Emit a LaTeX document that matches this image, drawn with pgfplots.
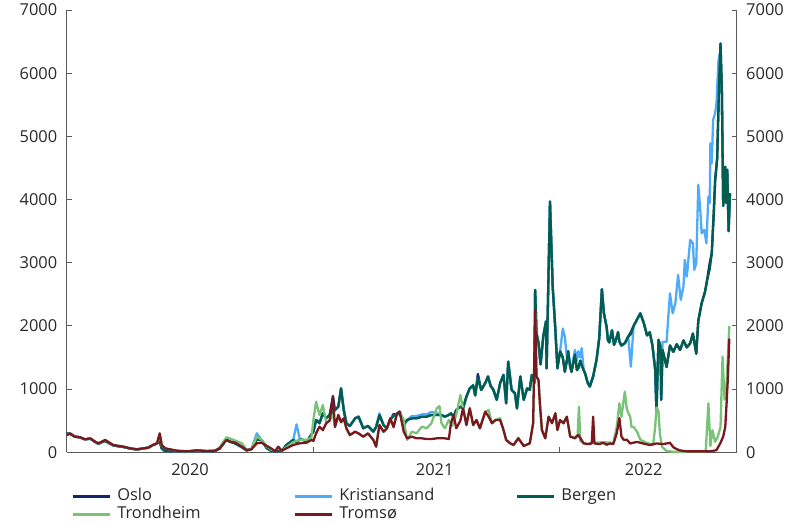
\documentclass[border=0pt]{standalone}
\usepackage{fontspec}
\setmainfont{Open Sans}
\usepackage{pgfplots}
\pgfplotsset{compat=1.18}
\usepackage{pgfplotstable}

\definecolor{oslo}{RGB}{16,38,110}
\definecolor{krs}{RGB}{80,170,250}
\definecolor{bergen}{RGB}{0,94,78}
\definecolor{trondheim}{RGB}{120,195,120}
\definecolor{tromso}{RGB}{122,24,32}
\definecolor{axisgray}{RGB}{90,90,90}
\definecolor{textgray}{RGB}{40,40,40}

% days counted from 1 January 2020, price per MWh
\pgfplotstableread{
d v
0 300
5 290
12 250
20 235
27 205
35 215
42 165
47 135
52 160
57 180
62 150
69 110
77 95
84 85
94 60
104 45
114 60
121 75
128 115
134 140
138 170
141 60
146 20
153 15
163 20
178 10
193 25
208 15
220 20
227 60
237 205
242 170
250 140
260 80
267 30
274 50
282 205
289 195
297 63
304 20
309 15
314 20
319 20
326 116
336 195
341 160
346 205
351 195
356 168
361 248
366 330
370 512
375 460
380 617
385 538
390 591
395 640
398 670
403 722
407 1013
411 670
415 459
420 417
428 538
433 564
440 380
447 417
455 327
459 400
464 590
470 432
475 380
480 512
485 580
490 591
494 643
500 432
505 512
512 538
519 538
527 564
534 564
541 591
549 591
556 591
561 564
567 591
570 617
574 564
578 670
584 722
588 696
593 881
598 1013
603 1060
606 900
610 1170
615 986
618 1040
622 1120
625 1200
629 1050
633 990
638 830
643 1095
648 1225
652 775
655 1435
660 990
665 935
668 695
673 1200
678 830
683 1010
687 990
690 1225
694 1100
695 2570
697 1885
700 1730
703 1390
707 1830
711 2070
712 1330
717 3970
721 2620
725 1935
728 1330
732 1600
736 1500
739 1275
742 1450
744 1600
747 1350
749 1275
752 1450
754 1550
757 1300
759 1330
762 1450
764 1380
767 1300
769 1250
773 1100
776 1040
781 1200
786 1460
790 1800
794 2580
797 2200
801 1985
803 1770
805 1740
809 1930
812 1700
814 1750
818 1900
820 1750
823 1690
828 1725
833 1830
837 1870
841 2000
846 2100
851 2200
856 2050
861 1850
865 1900
869 1690
873 1315
875 640
877 1400
878 1780
881 1670
882 830
884 1620
890 1350
895 1690
900 1590
905 1710
910 1620
915 1770
920 1660
925 1725
929 1880
934 1560
937 2080
942 2360
947 2540
950 2720
954 2900
957 3150
960 3800
962 4300
965 4650
968 5900
970 6470
972 5700
974 3900
977 4520
978 3950
980 4470
982 3500
984 4100
}\bergen

\pgfplotstableread{
d v
0 300
5 290
12 250
20 235
27 205
35 215
42 165
47 135
52 160
57 180
62 150
69 110
77 95
84 85
94 60
104 45
114 60
121 75
128 115
134 140
138 170
141 60
146 20
153 15
163 20
178 10
193 25
208 15
220 20
227 60
237 205
242 170
250 140
260 80
267 30
274 50
282 205
289 195
297 63
304 20
309 15
314 20
319 20
326 116
336 195
341 160
346 205
351 195
356 168
361 248
366 330
370 512
375 460
380 617
385 538
390 591
395 890
398 670
403 722
407 1013
411 670
415 459
420 417
428 538
433 564
440 380
447 417
455 327
459 400
464 590
470 432
475 380
480 512
485 607
490 591
494 643
500 432
505 512
512 538
519 538
527 564
534 564
541 591
549 591
556 591
561 564
567 591
570 617
574 564
578 670
584 722
588 696
593 881
598 1013
603 1060
606 900
610 1240
615 986
618 1040
622 1120
625 1200
629 1050
633 990
638 830
643 1095
648 1225
652 775
655 1435
660 990
665 935
668 695
673 1200
678 830
683 1010
687 990
690 1225
694 1100
695 2570
697 1885
700 1730
703 1390
707 1830
711 2070
712 1330
717 3970
721 2620
725 1935
728 1330
732 1600
736 1500
739 1275
742 1450
744 1600
747 1350
749 1275
752 1450
754 1550
757 1300
759 1330
762 1450
764 1380
767 1300
769 1250
773 1100
776 1040
781 1200
786 1460
790 1800
794 2580
797 2200
801 1985
803 1770
805 1740
809 1930
812 1700
814 1750
818 1900
820 1750
823 1690
828 1725
833 1830
837 1900
841 2000
846 2100
851 2200
856 2050
861 1850
865 1900
869 1690
873 1315
875 640
877 1400
878 1780
881 1670
882 830
884 1620
890 1350
895 1690
900 1590
905 1710
910 1620
915 1770
920 1660
925 1725
929 1880
934 1560
937 2080
942 2360
947 2540
950 2720
954 3000
957 3150
960 3800
962 4300
965 4650
968 5900
970 6470
972 5700
974 3900
977 4520
978 3950
980 4470
982 3500
984 4100
}\oslo

\pgfplotstableread{
d v
0 300
5 290
12 250
20 235
27 205
35 215
42 165
47 135
52 160
57 180
62 150
69 110
77 95
84 85
94 60
104 45
114 60
121 75
128 115
134 140
138 170
141 60
146 20
153 15
163 20
178 10
193 25
208 15
220 20
227 60
237 205
242 170
250 140
260 80
267 30
274 50
282 300
289 195
297 63
304 20
309 15
314 20
319 20
326 116
336 195
341 442
346 205
351 195
356 168
361 248
366 330
370 512
375 460
380 617
385 538
390 591
395 640
398 670
403 722
407 1013
411 670
415 459
420 417
428 538
433 564
440 380
447 417
455 327
459 400
464 617
470 432
475 380
480 512
485 580
490 591
494 643
500 432
505 512
512 575
519 575
527 600
534 600
541 640
549 620
556 591
561 564
567 591
570 617
574 564
578 670
584 722
588 696
593 881
598 1013
603 1060
606 900
610 1170
615 986
618 1040
622 1120
625 1200
629 1050
633 990
638 830
643 1095
648 1225
652 775
655 1435
660 990
665 935
668 695
673 1200
678 830
683 1010
687 990
690 1225
694 1100
695 2570
697 1885
700 1730
703 1390
707 1830
711 2070
712 1330
717 3970
721 2620
725 1935
728 1330
732 1600
736 1960
739 1831
742 1500
744 1600
747 1350
749 1300
752 1500
754 1620
757 1450
759 1600
762 1500
764 1650
767 1300
769 1250
773 1100
776 1040
781 1200
786 1460
790 1800
794 2580
797 2200
801 1985
803 1770
805 1740
809 1930
812 1700
814 1750
818 1900
820 1750
823 1690
828 1725
833 1830
837 1355
841 2000
846 2100
851 2200
856 2050
861 1850
865 1900
869 1690
873 1315
875 640
877 1400
878 1780
881 1670
882 830
884 1750
890 1750
895 2517
899 2200
903 2360
907 2806
911 2411
915 2622
917 3045
920 2780
925 3360
929 3308
931 2886
934 2992
937 4232
940 3836
942 3467
946 3520
949 3308
952 4047
954 3942
955 4892
957 4575
959 5261
962 5366
964 5524
967 6210
969 6316
971 5900
972 5700
974 3900
977 4520
978 3950
980 4470
982 3500
984 4100
}\kristiansand

\pgfplotstableread{
d v
0 270
5 300
12 247
20 237
27 205
35 221
42 168
47 142
52 168
57 195
62 160
69 116
77 100
84 89
94 63
104 47
114 63
121 73
128 116
134 142
138 290
141 116
146 63
153 47
163 26
178 15
193 31
208 21
220 26
227 80
237 237
242 220
250 185
260 142
267 36
274 47
282 247
289 200
297 90
304 40
309 20
314 80
319 25
326 80
336 160
346 200
356 200
363 230
366 512
370 800
375 590
380 750
385 470
390 500
395 600
398 400
403 580
407 470
411 530
415 375
420 270
428 320
433 295
440 245
447 295
455 190
459 90
464 430
470 320
475 375
480 530
485 395
490 610
494 640
500 512
505 195
512 327
519 300
527 406
534 380
541 459
549 696
553 733
556 459
561 380
567 512
572 420
578 591
584 907
588 700
593 450
598 700
603 430
608 510
613 380
621 643
626 670
631 459
636 511
643 540
648 353
652 195
658 142
663 116
670 230
678 100
687 142
692 459
695 2200
697 1190
700 1140
702 770
705 350
710 221
715 564
720 470
725 617
728 353
732 511
737 459
742 564
747 248
754 240
758 274
760 722
762 180
767 142
773 130
779 150
781 200
783 150
796 160
811 150
816 400
820 775
823 560
828 960
831 680
836 560
838 400
841 400
846 330
851 200
860 150
870 120
873 400
875 710
878 650
880 300
883 90
890 20
900 10
948 10
952 775
955 100
958 350
962 165
966 250
970 400
973 1515
976 830
979 1100
983 2000
}\trondheim

\pgfplotstableread{
d v
0 270
5 300
12 247
20 237
27 205
35 221
42 168
47 142
52 168
57 195
62 160
69 116
77 100
84 89
94 63
104 47
114 63
121 73
128 116
134 142
138 300
141 116
146 63
153 47
163 26
178 15
193 31
208 21
220 26
227 63
237 195
242 168
250 153
260 89
267 36
274 47
282 142
289 153
297 100
304 58
309 15
314 89
319 25
326 63
336 116
346 142
356 153
363 195
366 180
370 300
375 406
380 350
385 460
390 500
395 881
398 400
403 591
407 480
411 538
415 380
420 274
428 327
433 300
440 248
447 300
455 195
459 89
464 432
470 327
475 380
480 538
485 400
490 617
494 643
500 327
505 221
512 248
519 221
527 221
534 210
541 210
549 221
556 221
561 221
567 210
570 459
574 591
578 380
584 500
588 696
593 430
598 696
603 432
608 511
613 379
621 643
626 564
631 459
636 511
643 511
648 353
652 195
658 142
663 116
670 221
678 100
687 142
692 459
695 2253
697 1197
700 1144
702 775
705 353
710 221
715 564
720 459
725 617
728 353
732 511
737 459
742 564
747 248
754 221
759 274
767 142
773 130
779 140
781 565
783 140
790 130
796 150
801 120
806 140
811 130
816 300
820 540
823 250
826 200
831 200
836 140
846 165
855 140
865 115
875 140
885 130
895 150
900 80
905 50
910 30
920 15
950 15
958 20
964 35
970 150
974 250
977 400
979 775
981 1200
983 1800
}\tromso

\pgfplotsset{
  pricechart/.style={
    scale only axis,
    width=670pt, height=442.3pt,
    xmin=0, xmax=994, ymin=0, ymax=7000,
    ytick={0,1000,...,7000},
    tick align=inside,
    major tick length=5pt,
    axis line style={axisgray, line width=0.9pt},
    tick style={axisgray, line width=0.9pt},
    tick label style={font=\fontsize{16.4}{19}\selectfont, text=textgray},
    /pgf/number format/assume math mode=true,
    /pgf/number format/1000 sep={},
  },
}

\begin{document}
\begin{tikzpicture}[font=\fontsize{16.4}{19}\selectfont]
\begin{axis}[
  pricechart,
  axis x line*=bottom,
  axis y line*=left,
  yticklabel style={xshift=-6pt},
  xtick={366,731},
  xticklabels={},
  extra x ticks={183,546,856},
  extra x tick labels={2020,2021,2022},
  extra x tick style={major tick length=0pt, tick label style={yshift=-8pt}},
  every axis plot/.append style={line width=2.3pt, line join=round, mark=none},
  legend columns=3,
  legend image code/.code={\draw[#1, line width=2.6pt] (0pt,0pt) -- (37pt,0pt);},
  legend style={
    draw=none, fill=none,
    at={(rel axis cs:0,0)}, anchor=north west,
    xshift=5pt, yshift=-35pt,
    inner sep=0pt, outer sep=0pt,
    font=\fontsize{16.4}{19}\selectfont,
    text=textgray,
    row sep=0pt,
    column sep=6pt,
    nodes={inner xsep=0pt, inner ysep=1pt, text height=12pt, text depth=4pt, text width=150pt},
    /tikz/every even column/.append style={column sep=26.5pt},
  },
]
\coordinate (o) at (rel axis cs:0,0);
\addplot[oslo] table[x=d, y=v] {\oslo};
\addlegendentry{Oslo}
\addplot[krs] table[x=d, y=v] {\kristiansand};
\addlegendentry{Kristiansand}
\addplot[bergen] table[x=d, y=v] {\bergen};
\addlegendentry{Bergen}
\addplot[trondheim] table[x=d, y=v] {\trondheim};
\addlegendentry{Trondheim}
\addplot[tromso] table[x=d, y=v] {\tromso};
\addlegendentry{Tromsø}
\end{axis}
\begin{axis}[
  pricechart,
  axis x line=none,
  axis y line*=right,
  yticklabel style={xshift=6pt},
]
\end{axis}
\pgfresetboundingbox
\path[use as bounding box] (o) ++(-66.7pt,-71.7pt) rectangle ++(795pt,524pt);
\end{tikzpicture}
\end{document}
